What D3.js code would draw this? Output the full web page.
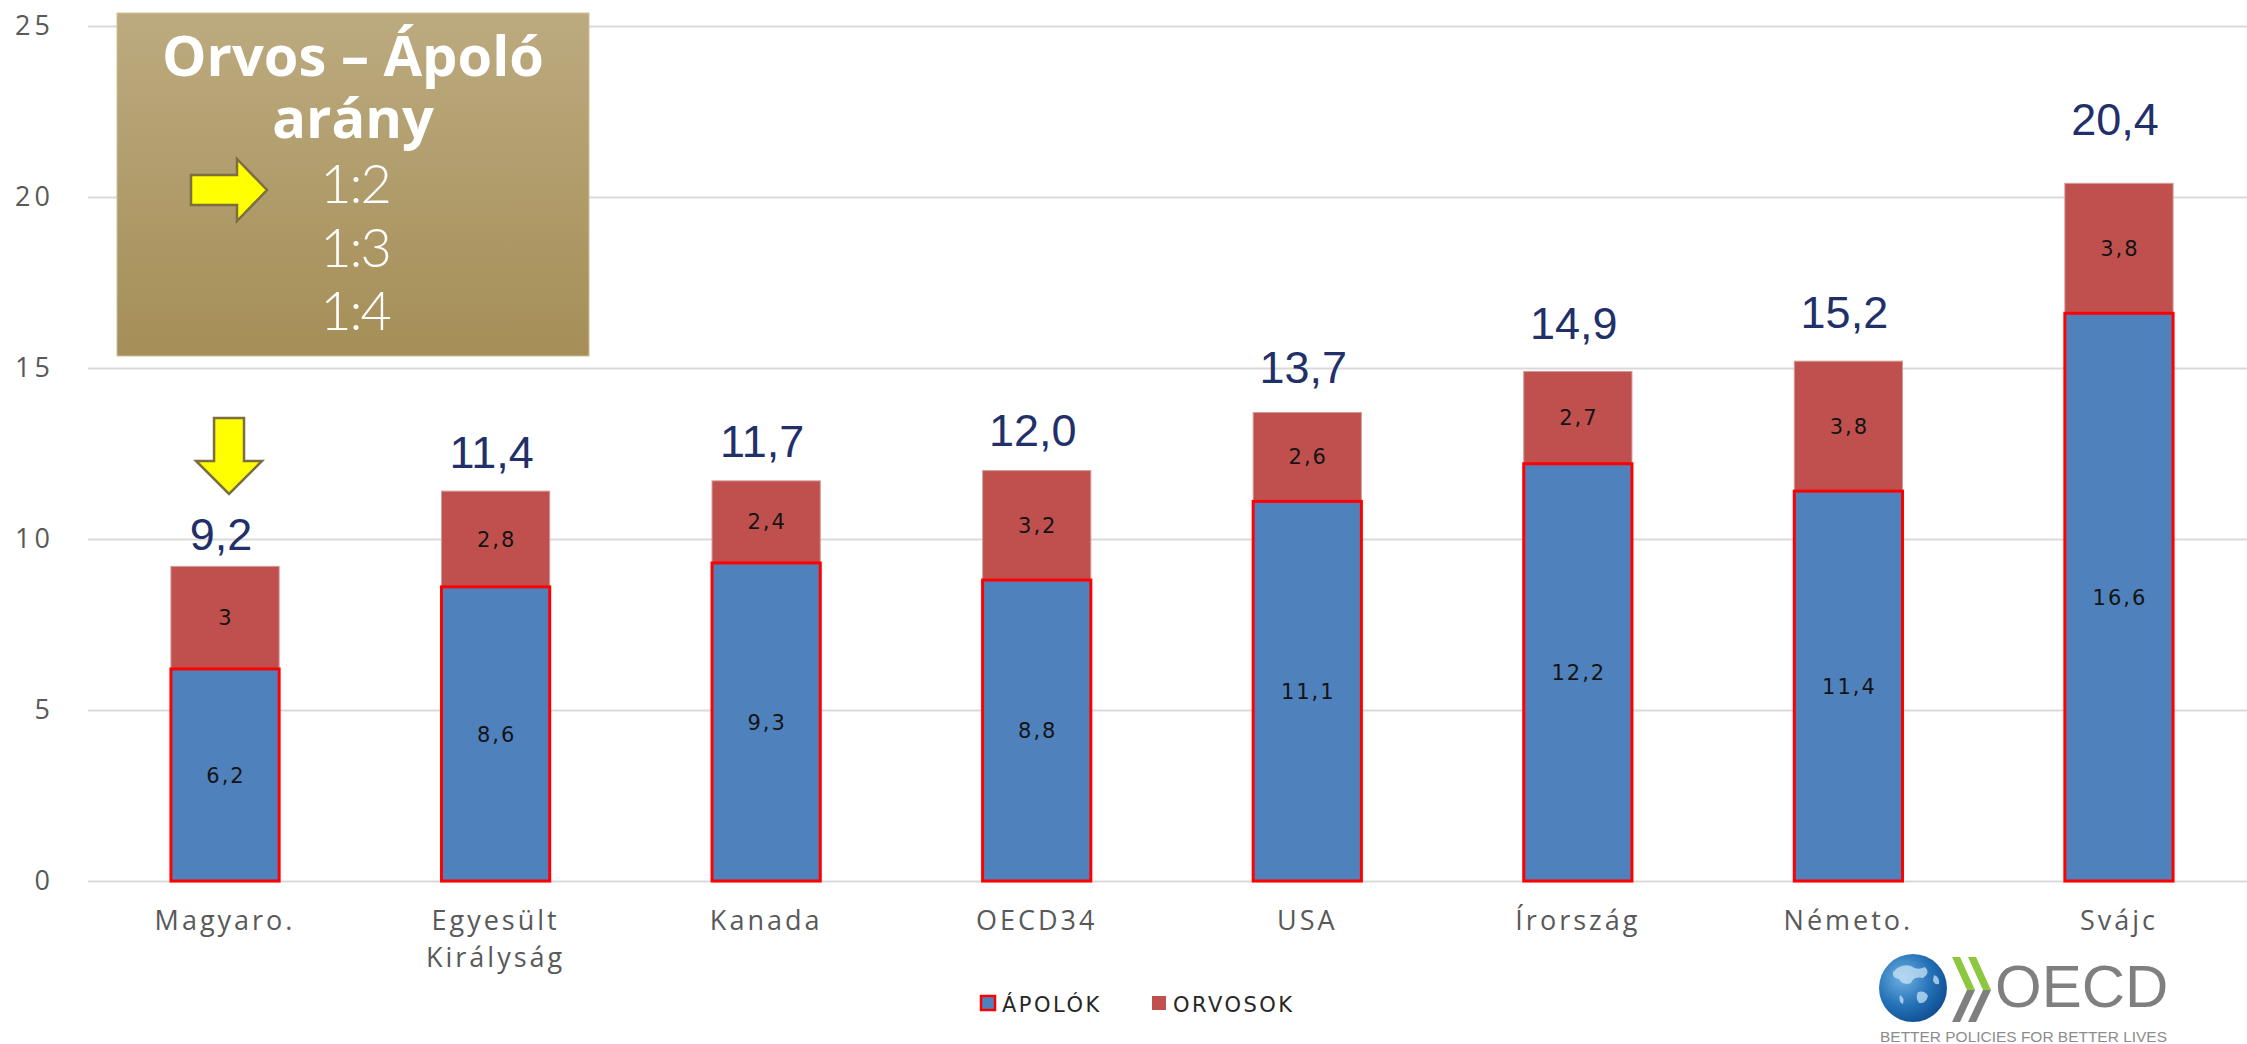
<!DOCTYPE html>
<html>
<head>
<meta charset="utf-8">
<script src="https://cdn.jsdelivr.net/npm/d3@7"></script>
<style>
  body { margin: 0; background: #fff; }
  svg { display: block; }
</style>
</head>
<body>
<svg id="chart" width="2247" height="1044"></svg>
<script>
// data
const categories = ['Magyaro.', 'Egyesült Királyság', 'Kanada', 'OECD34', 'USA', 'Írország', 'Németo.', 'Svájc'];
const apolok = [6.2, 8.6, 9.3, 8.8, 11.1, 12.2, 11.4, 16.6];
const orvosok = [3, 2.8, 2.4, 3.2, 2.6, 2.7, 3.8, 3.8];
const totals = [9.2, 11.4, 11.7, 12.0, 13.7, 14.9, 15.2, 20.4];
const yTicks = [0, 5, 10, 15, 20, 25];
const seriesNames = ['ÁPOLÓK', 'ORVOSOK'];
const boxTitle = ['Orvos – Ápoló', 'arány'];
const ratios = ['1:2', '1:3', '1:4'];

const W = 2247, H = 1044;
const BLUE = '#4F81BD', RED = '#C0504D', EDGE = '#FF0000';

const hu = d3.formatLocale({ decimal: ',', thousands: ' ', grouping: [3], currency: ['', ' Ft'] });
const fmtTotal = hu.format('.1f');
const fmtPart = v => hu.format('')(v);

const svg = d3.select('#chart');

const x = d3.scaleBand().domain(categories).range([93, 2251]).paddingInner(0.6).paddingOuter(0.288);
const y = d3.scaleLinear().domain([0, 25]).range([881, 26]);
// the total labels were placed by hand in the original, they sit on a slightly steeper line
const yLabel = d3.scaleLinear().domain([0, 25]).range([890, -35]);

// gridlines
const grid = svg.append('g')
  .attr('transform', 'translate(88,0)')
  .call(d3.axisLeft(y).tickValues(yTicks).tickSize(-(W - 88)).tickFormat(''));
grid.select('.domain').remove();
grid.selectAll('line').attr('stroke', '#D9D9D9').attr('stroke-width', 2);

// y tick labels
const yAxis = svg.append('g')
  .attr('transform', 'translate(54,0)')
  .call(d3.axisLeft(y).tickValues(yTicks).tickSize(0).tickPadding(0));
yAxis.select('.domain').remove();
yAxis.selectAll('text')
  .attr('font-family', '"Open Sans", sans-serif')
  .attr('font-size', 27)
  .attr('letter-spacing', 4)
  .attr('fill', '#595959');

// ORVOSOK segments (on top of ÁPOLÓK)
svg.append('g').selectAll('rect')
  .data(categories)
  .join('rect')
  .attr('x', (d, i) => x(d))
  .attr('y', (d, i) => y(apolok[i] + orvosok[i]))
  .attr('width', x.bandwidth())
  .attr('height', (d, i) => y(apolok[i]) - y(apolok[i] + orvosok[i]))
  .attr('fill', RED)
  .attr('stroke', '#D39A98')
  .attr('stroke-width', 1);

// ÁPOLÓK segments
svg.append('g').selectAll('rect')
  .data(categories)
  .join('rect')
  .attr('x', d => x(d))
  .attr('y', (d, i) => y(apolok[i]))
  .attr('width', x.bandwidth())
  .attr('height', (d, i) => y(0) - y(apolok[i]))
  .attr('fill', BLUE)
  .attr('stroke', EDGE)
  .attr('stroke-width', 3);

// segment value labels
const partFont = { family: '"DejaVu Sans", Verdana, sans-serif', size: 21 };
const partLabels = (vals, mid) => svg.append('g').selectAll('text')
  .data(categories)
  .join('text')
  .attr('x', d => x(d) + x.bandwidth() / 2 + 1)
  .attr('y', (d, i) => mid(i))
  .attr('dy', '0.36em')
  .attr('text-anchor', 'middle')
  .attr('font-family', partFont.family)
  .attr('font-size', partFont.size)
  .attr('letter-spacing', 2)
  .attr('fill', '#141414')
  .text((d, i) => fmtPart(vals[i]));
partLabels(apolok, i => (y(0) + y(apolok[i])) / 2);
partLabels(orvosok, i => (y(apolok[i]) + y(apolok[i] + orvosok[i])) / 2);

// totals above the bars
svg.append('g').selectAll('text')
  .data(categories)
  .join('text')
  .attr('x', d => x(d) + x.bandwidth() / 2 - 4)
  .attr('y', (d, i) => yLabel(totals[i]))
  .attr('text-anchor', 'middle')
  .attr('font-family', '"Liberation Sans", Arial, sans-serif')
  .attr('font-size', 45)
  .attr('fill', '#22306A')
  .text((d, i) => fmtTotal(totals[i]));

// category labels
svg.append('g').selectAll('text')
  .data(categories)
  .join('text')
  .attr('x', d => x(d) + x.bandwidth() / 2)
  .attr('y', 930)
  .attr('text-anchor', 'middle')
  .attr('font-family', '"Open Sans", sans-serif')
  .attr('font-size', 27)
  .attr('letter-spacing', 3)
  .attr('fill', '#595959')
  .selectAll('tspan')
  .data(d => d.split(' ').map(line => ({ line, cx: x(d) + x.bandwidth() / 2 })))
  .join('tspan')
  .attr('x', t => t.cx)
  .attr('dy', (t, j) => j ? 37 : 0)
  .text(t => t.line);

// legend
const legend = svg.append('g').attr('transform', 'translate(981,996)');
const legendItems = [
  { name: seriesNames[0], fill: BLUE, stroke: EDGE, dx: 0 },
  { name: seriesNames[1], fill: RED, stroke: 'none', dx: 171 }
];
const li = legend.selectAll('g').data(legendItems).join('g')
  .attr('transform', d => `translate(${d.dx},0)`);
li.append('rect')
  .attr('width', 14).attr('height', 14)
  .attr('fill', d => d.fill)
  .attr('stroke', d => d.stroke)
  .attr('stroke-width', 2.5);
li.append('text')
  .attr('x', 21).attr('y', 15.5)
  .attr('font-family', '"DejaVu Sans", Verdana, sans-serif')
  .attr('font-size', 21)
  .attr('letter-spacing', 2.5)
  .attr('fill', '#262626')
  .text(d => d.name);

// gold info box
const defs = svg.append('defs');
const gold = defs.append('linearGradient').attr('id', 'gold').attr('x1', 0).attr('y1', 0).attr('x2', 0).attr('y2', 1);
gold.append('stop').attr('offset', 0).attr('stop-color', '#BCAB80');
gold.append('stop').attr('offset', 1).attr('stop-color', '#A58E57');

const box = svg.append('g');
box.append('rect')
  .attr('x', 117).attr('y', 13).attr('width', 472).attr('height', 343)
  .attr('fill', 'url(#gold)')
  .attr('stroke', '#CDBF98').attr('stroke-width', 1);
box.append('text')
  .attr('y', 76)
  .attr('text-anchor', 'middle')
  .attr('font-family', '"Open Sans", sans-serif')
  .attr('font-weight', 700)
  .attr('font-size', 56)
  .attr('fill', '#fff')
  .selectAll('tspan')
  .data(boxTitle)
  .join('tspan')
  .attr('x', 353)
  .attr('dy', (d, i) => i ? 62 : 0)
  .text(d => d);
box.selectAll('text.ratio')
  .data(ratios)
  .join('text')
  .attr('class', 'ratio')
  .attr('x', 355)
  .attr('y', (d, i) => 203 + i * 63.5)
  .attr('text-anchor', 'middle')
  .attr('font-family', 'Lato, "Open Sans", sans-serif')
  .attr('font-weight', 300)
  .attr('font-size', 54)
  .attr('letter-spacing', -2)
  .attr('fill', '#fff')
  .text(d => d);

// yellow arrows
const arrowStyle = sel => sel.attr('fill', '#FFFF00').attr('stroke', '#7A6E42').attr('stroke-width', 2.5).attr('stroke-linejoin', 'miter');
svg.append('path')
  .attr('d', 'M191,175 H237 V159 L267,190 L237,221 V205 H191 Z')
  .call(arrowStyle);
const ax = x(categories[0]) + x.bandwidth() / 2 + 4;
svg.append('path')
  .attr('d', `M${ax - 15},418 H${ax + 15} V461 H${ax + 33} L${ax},494 L${ax - 33},461 H${ax - 15} Z`)
  .call(arrowStyle);

// OECD logo
const globe = defs.append('radialGradient').attr('id', 'globe').attr('cx', 0.35).attr('cy', 0.35).attr('r', 0.75);
globe.append('stop').attr('offset', 0).attr('stop-color', '#6FB2E3');
globe.append('stop').attr('offset', 0.55).attr('stop-color', '#2572B8');
globe.append('stop').attr('offset', 1).attr('stop-color', '#0C4A8C');
const logo = svg.append('g');
logo.append('circle').attr('cx', 1913).attr('cy', 988).attr('r', 34).attr('fill', 'url(#globe)');
logo.append('path')
  .attr('d', 'M1893,972 q8,-9 18,-6 q6,5 14,1 q6,6 -2,11 q-9,-2 -12,5 q-8,3 -12,-4 q-7,-1 -6,-7 Z M1918,992 q7,-2 10,4 q-2,8 -9,7 q-4,-5 -1,-11 Z M1934,975 q6,2 5,9 q-5,1 -6,-4 Z M1900,995 q5,3 3,9 q-5,-2 -3,-9 Z')
  .attr('fill', '#C9E3F5').attr('opacity', 0.75);
[0, 16].forEach(off => {
  logo.append('path')
    .attr('d', `M${1952 + off},957 H${1960 + off} L${1975 + off},990 H${1967 + off} Z`)
    .attr('fill', '#8DC63F');
  logo.append('path')
    .attr('d', `M${1967 + off},990 H${1975 + off} L${1960 + off},1022 H${1952 + off} Z`)
    .attr('fill', '#7F7F7F');
});
logo.append('text')
  .attr('x', 1995).attr('y', 1007)
  .attr('font-family', '"Liberation Sans", Arial, sans-serif')
  .attr('font-size', 60)
  .attr('fill', '#7F7F7F')
  .text('OECD');
logo.append('text')
  .attr('x', 1880).attr('y', 1042)
  .attr('textLength', 287).attr('lengthAdjust', 'spacingAndGlyphs')
  .attr('font-family', '"Liberation Sans Narrow", "Liberation Sans", Arial, sans-serif')
  .attr('font-size', 15)
  .attr('fill', '#8C8C8C')
  .text('BETTER POLICIES FOR BETTER LIVES');
</script>
</body>
</html>
